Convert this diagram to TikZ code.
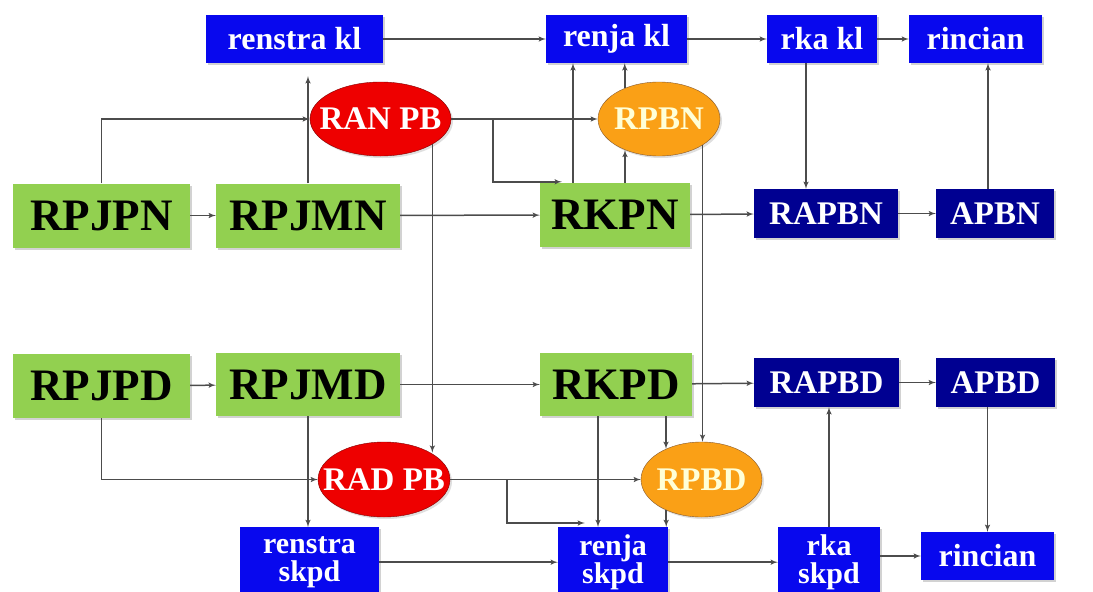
\documentclass[tikz,border=0pt]{standalone}
\usepackage{fontspec}
\setmainfont{Liberation Serif}
\usetikzlibrary{arrows,shapes.geometric,shadows}
\definecolor{planGreen}{RGB}{146,208,80}
\definecolor{docBlue}{RGB}{8,8,238}
\definecolor{budgetNavy}{RGB}{0,0,145}
\definecolor{draftRed}{RGB}{238,0,0}
\definecolor{draftOrange}{RGB}{250,160,22}
\definecolor{creamText}{RGB}{255,255,215}
\newcommand\ovaltext[1]{\makebox[0pt]{#1}}

\begin{document}
\begin{tikzpicture}[x=1pt,y=-1pt,
      flow/.style={->,>=latex',draw=black!70,line width=1.5pt},
      plan/.style={fill=planGreen,inner sep=0pt,minimum height=64pt,
        font=\fontsize{45}{45}\selectfont\bfseries,
        drop shadow={shadow xshift=2pt,shadow yshift=-2pt,fill=black!35}},
      doc/.style={fill=docBlue,text=white,inner sep=0pt,minimum height=48pt,align=center,
        font=\fontsize{32}{32}\selectfont\bfseries,
        drop shadow={shadow xshift=2pt,shadow yshift=-2pt,fill=black!35}},
      twoline/.style={doc,anchor=north,minimum height=70pt,
        font=\fontsize{30}{28}\selectfont\bfseries},
      budget/.style={doc,fill=budgetNavy,font=\fontsize{33}{33}\selectfont\bfseries},
      draft/.style={ellipse,inner sep=0pt,minimum height=74pt,
        font=\fontsize{33}{33}\selectfont\bfseries,
        drop shadow={shadow xshift=2pt,shadow yshift=-2pt,fill=black!25}},
      rdraft/.style={draft,fill=draftRed,draw=red!50!black,text=white},
      odraft/.style={draft,fill=draftOrange,draw=brown!70!black,text=creamText}]
  \useasboundingbox (0,0) rectangle (1093,592);

  % national level
  \node[doc,minimum width=177pt] (renstrakl) at (294.5,39) {renstra kl};
  \node[doc,minimum width=141pt] (renjakl) at (616.5,39) {renja kl};
  \node[doc,minimum width=110pt] (rkakl) at (822,39) {rka kl};
  \node[doc,minimum width=133pt] (rinciankl) at (975.5,39) {rincian};
  \node[rdraft,minimum width=141pt] (RANPB) at (380.5,119) {\ovaltext{RAN PB}};
  \node[odraft,minimum width=122pt] (RPBN) at (659,119) {\ovaltext{RPBN}};
  \node[plan,minimum width=177pt] (RPJPN) at (101.5,215.5) {RPJPN};
  \node[plan,minimum width=184pt] (RPJMN) at (308,215.5) {RPJMN};
  \node[plan,minimum width=150pt] (RKPN) at (615,215) {RKPN};
  \node[budget,minimum width=144pt,minimum height=49pt] (RAPBN) at (826,213.5) {RAPBN};
  \node[budget,minimum width=118pt,minimum height=49pt] (APBN) at (995,213.5) {APBN};

  % regional level
  \node[plan,minimum width=177pt] (RPJPD) at (101.5,386) {RPJPD};
  \node[plan,minimum width=184pt,minimum height=63pt] (RPJMD) at (308,384.5) {RPJMD};
  \node[plan,minimum width=152pt,minimum height=63pt] (RKPD) at (616,384.5) {RKPD};
  \node[budget,minimum width=145pt,minimum height=49pt] (RAPBD) at (826.5,382.5) {RAPBD};
  \node[budget,minimum width=119pt,minimum height=49pt] (APBD) at (995.5,382.5) {APBD};
  \node[rdraft,minimum width=132pt,minimum height=75pt] (RADPB) at (384,479.5) {\ovaltext{RAD PB}};
  \node[odraft,minimum width=121pt,minimum height=75pt] (RPBD) at (701.5,479.5) {\ovaltext{RPBD}};
  \node[twoline,minimum width=139pt] (renstraskpd) at (309.5,527) {renstra\\skpd};
  \node[twoline,minimum width=110pt] (renjaskpd) at (613,527) {renja\\skpd};
  \node[twoline,minimum width=102pt] (rkaskpd) at (829,527) {rka\\skpd};
  \node[doc,minimum width=133pt] (rincianskpd) at (987.5,556) {rincian};

  % national flows
  \draw[flow] (renstrakl) -- (renjakl);
  \draw[flow] (renjakl) -- (rkakl);
  \draw[flow] (rkakl) -- (rinciankl);
  \draw[flow] (RPJPN) -- (RPJMN);
  \draw[flow] (RPJMN) -- (RKPN);
  \draw[flow] (RKPN) -- (RAPBN);
  \draw[flow] (RAPBN) -- (APBN);
  \draw[flow] (RPJPN.north) |- (RANPB.west);
  \draw[flow,shorten >=13pt] (RPJMN.north) -- (RPJMN.north |- renstrakl.south);
  \draw[flow] (RANPB.east) -- (RPBN.west);
  \draw[flow] ([xshift=42pt]RANPB.east) |- ([xshift=22pt,yshift=1pt]RKPN.north west);
  \draw[flow] ([xshift=-42pt]RKPN.north) -- ([xshift=-42pt]RKPN.north |- renjakl.south);
  \draw[flow] ([xshift=10pt]RKPN.north) -- ([xshift=10pt]RKPN.north |- RPBN.222);
  \draw[flow] (RPBN.138) -- (RPBN.138 |- renjakl.south);
  \draw[flow] ([xshift=-16pt]rkakl.south) -- ([xshift=-16pt]rkakl.south |- RAPBN.north);
  \draw[flow] ([xshift=-7pt]APBN.north) -- ([xshift=-7pt]APBN.north |- rinciankl.south);
  \draw[flow] (RANPB.-26) -- (RANPB.-26 |- RADPB.30);
  \draw[flow] (RPBN.-31) -- (RPBN.-31 |- RPBD.north);

  % regional flows
  \draw[flow] (RPJPD) -- (RPJMD);
  \draw[flow] (RPJMD) -- (RKPD);
  \draw[flow] (RKPD) -- (RAPBD);
  \draw[flow] (RAPBD) -- (APBD);
  \draw[flow] (RPJPD.south) |- (RADPB.west);
  \draw[flow] (RPJMD.south) -- (RPJMD.south |- renstraskpd.north);
  \draw[flow] (RADPB.east) -- (RPBD.west);
  \draw[flow] ([xshift=57pt]RADPB.east) |- ([xshift=27pt,yshift=4pt]renjaskpd.north west);
  \draw[flow] ([xshift=-18pt]RKPD.south) -- ([xshift=-18pt]RKPD.south |- renjaskpd.north);
  \draw[flow] ([xshift=50pt]RKPD.south) -- ([xshift=50pt]RKPD.south |- RPBD.139);
  \draw[flow] (RPBD.-139) -- (RPBD.-139 |- renjaskpd.north);
  \draw[flow] (renstraskpd) -- (renjaskpd);
  \draw[flow] (renjaskpd) -- (rkaskpd);
  \draw[flow] (rkaskpd.east |- rincianskpd) -- (rincianskpd.west);
  \draw[flow] (rkaskpd.north) -- (rkaskpd.north |- RAPBD.south);
  \draw[flow] (rincianskpd.north |- APBD.south) -- (rincianskpd.north);
\end{tikzpicture}
\end{document}
